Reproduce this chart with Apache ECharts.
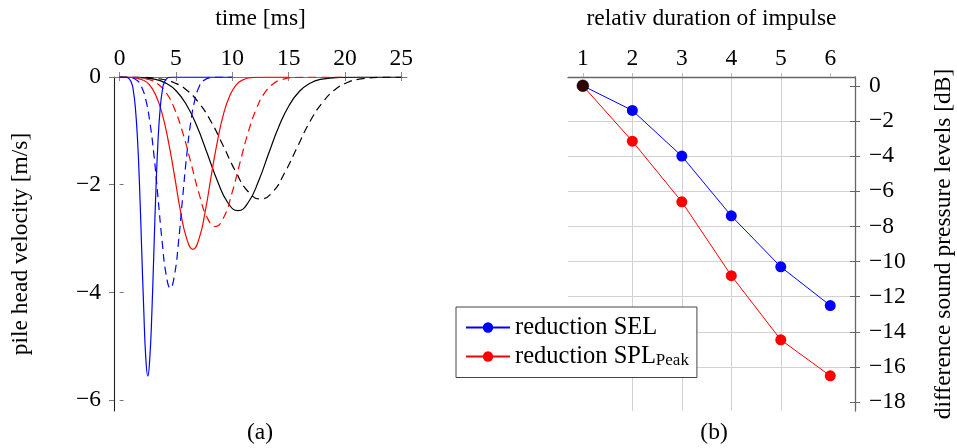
<!DOCTYPE html>
<html><head><meta charset="utf-8">
<script src="https://cdn.jsdelivr.net/npm/echarts@6/dist/echarts.min.js"></script>
<style>html,body{margin:0;padding:0;background:#fff}#c{width:957px;height:448px}</style>
</head><body><div id="c"></div>
<script>
// ---- (a) pile head velocity pulses: time [ms] and velocity [m/s] ----
const timeTicks = [0, 5, 10, 15, 20, 25];
const velocityTicks = [-6, -4, -2, 0];

const blueSolidT = [0, 0.31, 0.68, 1.04, 1.22, 1.40, 1.59, 1.77, 1.95, 2.14, 2.32, 2.5, 2.68, 2.87, 3.05, 3.23, 3.41, 3.60, 3.78, 3.96, 4.33, 4.69, 10];
const blueSolidV = [0, 0, -0.01, -0.10, -0.26, -0.58, -1.17, -2.04, -3.16, -4.32, -5.21, -5.55, -5.21, -4.32, -3.16, -2.04, -1.17, -0.58, -0.26, -0.10, -0.01, 0, 0];

const blueDashT = [0, 0.85, 1.58, 1.94, 2.31, 2.67, 3.04, 3.40, 3.77, 4.135, 4.5, 4.865, 5.23, 5.595, 5.96, 6.325, 6.69, 7.055, 7.42, 8.15, 8.88, 10];
const blueDashV = [0, -0.007, -0.07, -0.18, -0.41, -0.82, -1.44, -2.23, -3.05, -3.68, -3.92, -3.68, -3.05, -2.23, -1.44, -0.82, -0.41, -0.18, -0.07, -0.007, 0, 0];

const redSolidT = [0, 1.03, 2.12, 2.67, 3.21, 3.76, 4.31, 4.86, 5.40, 5.95, 6.5, 7.05, 7.60, 8.14, 8.69, 9.24, 9.79, 10.33, 10.88, 11.98, 13.07, 15];
const redSolidV = [0, -0.006, -0.059, -0.15, -0.34, -0.67, -1.18, -1.82, -2.49, -3.00, -3.20, -3.00, -2.49, -1.82, -1.18, -0.67, -0.34, -0.15, -0.059, -0.006, 0, 0];

const redDashT = [0, 1.2, 2.66, 3.39, 4.12, 4.85, 5.58, 6.31, 7.04, 7.77, 8.5, 9.23, 9.96, 10.69, 11.42, 12.15, 12.88, 13.61, 14.34, 15.8, 17.26, 20];
const redDashV = [0, -0.005, -0.051, -0.13, -0.29, -0.58, -1.02, -1.58, -2.16, -2.61, -2.775, -2.61, -2.16, -1.58, -1.02, -0.58, -0.29, -0.13, -0.051, -0.005, 0, 0];

const blackSolidT = [0, 1.375, 3.2, 4.11, 5.03, 5.94, 6.85, 7.76, 8.68, 9.59, 10.5, 11.41, 12.33, 13.24, 14.15, 15.06, 15.98, 16.89, 17.8, 19.63, 21.45, 25];
const blackSolidV = [0, -0.005, -0.045, -0.116, -0.26, -0.52, -0.91, -1.41, -1.93, -2.33, -2.48, -2.33, -1.93, -1.41, -0.91, -0.52, -0.26, -0.116, -0.045, -0.005, 0, 0];

const blackDashT = [0, 1.55, 3.74, 4.84, 5.93, 7.03, 8.12, 9.22, 10.31, 11.41, 12.5, 13.6, 14.69, 15.79, 16.88, 17.98, 19.07, 20.16, 21.26, 23.45, 25];
const blackDashV = [0, -0.004, -0.041, -0.106, -0.24, -0.48, -0.83, -1.29, -1.76, -2.13, -2.265, -2.13, -1.76, -1.29, -0.83, -0.48, -0.24, -0.106, -0.041, -0.004, 0];

// ---- (b) reduction vs relative duration ----
const durations = [1, 2, 3, 4, 5, 6];
const levelTicks = [-18, -16, -14, -12, -10, -8, -6, -4, -2, 0];
const selReduction = [0, -1.4, -4.0, -7.4, -10.3, -12.5];
const splReduction = [0, -3.15, -6.6, -10.8, -14.45, -16.5];
const referencePoint = [1, 0];

const FONT = 'Liberation Serif';
const FS = 23.5;
const zip = (a, b) => a.map((v, i) => [v, b[i]]);
const minusFmt = v => (v < 0 ? '\u2212' + Math.abs(v) : String(v));

const chart = echarts.init(document.getElementById('c'), null, {renderer: 'canvas'});

function curve(name, T, V, color, dashed) {
  return {
    name, type: 'line', xAxisIndex: 0, yAxisIndex: 0,
    data: zip(T, V), showSymbol: false, symbol: 'none',
    smooth: 0.5,
    lineStyle: {color, width: 1.2, type: dashed ? [8, 5] : 'solid'},
    itemStyle: {color}, z: 3
  };
}

const labelStyle = {fontFamily: FONT, fontSize: FS, color: '#000'};

chart.setOption({
  animation: false,
  backgroundColor: '#fff',
  grid: [
    {left: 114, top: 77, width: 293, height: 334},
    {left: 568, top: 77, width: 293, height: 334}
  ],
  xAxis: [
    { gridIndex: 0, type: 'value', position: 'top', min: -0.5, max: 25.5,
      axisLine: {show: true, onZero: false, lineStyle: {color: '#777', width: 1}},
      axisTick: {show: true, customValues: timeTicks, length: 5, lineStyle: {color: '#888'}},
      axisLabel: Object.assign({customValues: timeTicks, margin: 6}, labelStyle),
      splitLine: {show: false},
      name: 'time [ms]', nameLocation: 'middle', nameGap: 46,
      nameTextStyle: labelStyle },
    { gridIndex: 0, type: 'value', position: 'top', min: -0.5, max: 25.5,
      axisLine: {show: false},
      axisTick: {show: true, inside: true, customValues: timeTicks, length: 4, lineStyle: {color: '#888'}},
      axisLabel: {show: false}, splitLine: {show: false} },
    { gridIndex: 1, type: 'value', position: 'top', min: 0.7, max: 6.5,
      axisLine: {show: true, onZero: false, lineStyle: {color: '#666', width: 1.3}},
      axisTick: {show: true, customValues: durations, length: 4, lineStyle: {color: '#bbb'}},
      axisLabel: Object.assign({customValues: durations, margin: 6}, labelStyle),
      splitLine: {show: true, showMinLine: false, showMaxLine: false, lineStyle: {color: '#d2d2d2', width: 1}},
      name: 'relativ duration of impulse', nameLocation: 'middle', nameGap: 46,
      nameTextStyle: labelStyle },
    { gridIndex: 1, type: 'value', position: 'top', min: 0.7, max: 6.5,
      axisLine: {show: false},
      axisTick: {show: false}, axisLabel: {show: false}, splitLine: {show: false} }
  ],
  yAxis: [
    { gridIndex: 0, type: 'value', position: 'left', min: -6.2, max: 0,
      axisLine: {show: true, onZero: false, lineStyle: {color: '#222', width: 1.1}},
      axisTick: {show: true, customValues: velocityTicks, length: 5, lineStyle: {color: '#777'}},
      axisLabel: Object.assign({customValues: velocityTicks, margin: 13, formatter: minusFmt}, labelStyle),
      splitLine: {show: false},
      name: 'pile head velocity [m/s]', nameLocation: 'middle', nameGap: 81, nameRotate: 90,
      nameTextStyle: labelStyle },
    { gridIndex: 0, type: 'value', position: 'left', min: -6.2, max: 0,
      axisLine: {show: false},
      axisTick: {show: true, inside: true, customValues: velocityTicks, length: 4, lineStyle: {color: '#777'}},
      axisLabel: {show: false}, splitLine: {show: false} },
    { gridIndex: 1, type: 'value', position: 'right', min: -18.5, max: 0.5,
      axisLine: {show: true, onZero: false, lineStyle: {color: '#666', width: 1.3}},
      axisTick: {show: true, customValues: levelTicks, length: 5, lineStyle: {color: '#666'}},
      axisLabel: Object.assign({customValues: levelTicks, margin: 14, formatter: minusFmt}, labelStyle),
      splitLine: {show: true, showMinLine: false, showMaxLine: false, lineStyle: {color: '#d2d2d2', width: 1}},
      name: 'difference sound pressure levels [dB]', nameLocation: 'middle', nameGap: 77, nameRotate: 90,
      nameTextStyle: labelStyle },
    { gridIndex: 1, type: 'value', position: 'right', min: -18.5, max: 0.5,
      axisLine: {show: false},
      axisTick: {show: true, inside: true, customValues: levelTicks, length: 5, lineStyle: {color: '#666'}},
      axisLabel: {show: false}, splitLine: {show: false} }
  ],
  legend: {
    data: ['reduction SEL', 'reduction SPL_Peak'],
    orient: 'vertical', left: 456, top: 307,
    itemWidth: 44, itemHeight: 13, itemGap: 4,
    padding: [8, 8, 8, 9],
    backgroundColor: '#fff', borderColor: '#444', borderWidth: 1, borderRadius: 0,
    formatter: n => (n === 'reduction SPL_Peak' ? '{m|reduction SPL}{s|Peak}' : '{m|' + n + '}'),
    textStyle: {fontFamily: FONT, fontSize: FS, color: '#000',
      rich: {m: {fontFamily: FONT, fontSize: 24.5, lineHeight: 26, color: '#000'},
             s: {fontFamily: FONT, fontSize: 17, lineHeight: 16, color: '#000', verticalAlign: 'bottom'}}}
  },
  graphic: [
    {type: 'text', x: 260, y: 433, style: {text: '(a)', font: FS + 'px "' + FONT + '"', fill: '#000', align: 'center', verticalAlign: 'middle'}},
    {type: 'text', x: 714, y: 433, style: {text: '(b)', font: FS + 'px "' + FONT + '"', fill: '#000', align: 'center', verticalAlign: 'middle'}}
  ],
  series: [
    curve('k6', blackDashT, blackDashV, '#000', true),
    curve('k5', blackSolidT, blackSolidV, '#000', false),
    curve('k4', redDashT, redDashV, '#ff0000', true),
    curve('k3', redSolidT, redSolidV, '#ff0000', false),
    curve('k2', blueDashT, blueDashV, '#0000ff', true),
    curve('k1', blueSolidT, blueSolidV, '#0000ff', false),
    { name: 'reduction SEL', type: 'line', xAxisIndex: 2, yAxisIndex: 2,
      data: zip(durations, selReduction), symbol: 'circle', symbolSize: 11,
      lineStyle: {color: '#0000ff', width: 1}, itemStyle: {color: '#0000ff'}, z: 3 },
    { name: 'reduction SPL_Peak', type: 'line', xAxisIndex: 2, yAxisIndex: 2,
      data: zip(durations, splReduction), symbol: 'circle', symbolSize: 11,
      lineStyle: {color: '#ff0000', width: 1}, itemStyle: {color: '#ff0000'}, z: 3 },
    { name: 'reference', type: 'scatter', xAxisIndex: 2, yAxisIndex: 2,
      data: [referencePoint], symbol: 'circle', symbolSize: 12,
      itemStyle: {color: '#000', borderColor: '#000', borderWidth: 0.5}, z: 5 }
  ]
});
</script></body></html>
